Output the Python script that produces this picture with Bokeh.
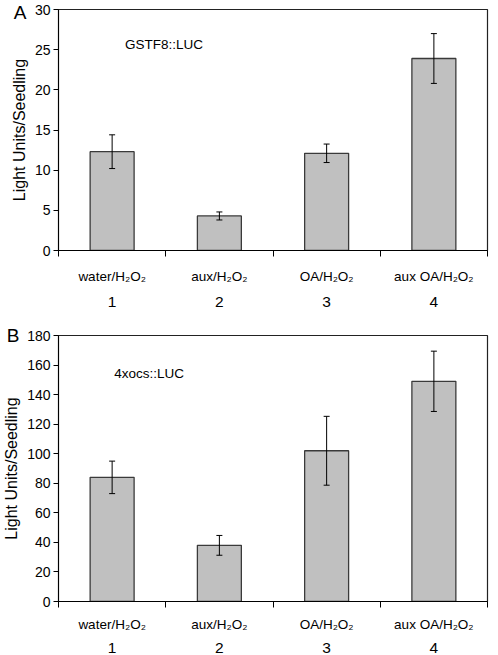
from bokeh.plotting import figure
from bokeh.models import (ColumnDataSource, FixedTicker, LinearAxis, Range1d,
                          Whisker, Label, TeeHead)
from bokeh.layouts import column
from bokeh.embed import file_html
from bokeh.resources import INLINE

# ---- data ----
conditions = ["water/H\u2082O\u2082", "aux/H\u2082O\u2082", "OA/H\u2082O\u2082", "aux OA/H\u2082O\u2082"]
condition_numbers = ["1", "2", "3", "4"]

gstf8_values = [12.3, 4.3, 12.1, 23.9]
gstf8_errors = [2.1, 0.5, 1.15, 3.1]
gstf8_yticks = [0, 5, 10, 15, 20, 25, 30]

ocs_values = [84.0, 38.0, 102.0, 149.0]
ocs_errors = [11.0, 6.7, 23.3, 20.4]
ocs_yticks = [0, 20, 40, 60, 80, 100, 120, 140, 160, 180]

FONT = "Liberation Sans"


def make_panel(values, errors, yticks, note, note_pos, letter, width, height,
               b_top, b_bottom, b_right, std1, std2):
    n = len(values)
    centers = [i + 0.5 for i in range(n)]
    src = ColumnDataSource(dict(
        x=centers, top=values,
        upper=[v + e for v, e in zip(values, errors)],
        lower=[v - e for v, e in zip(values, errors)],
    ))
    p = figure(width=width, height=height, x_range=Range1d(0, n),
               y_range=Range1d(yticks[0], yticks[-1]),
               output_backend="svg", toolbar_location=None,
               x_axis_location=None, y_axis_location=None,
               min_border_top=b_top, min_border_bottom=b_bottom,
               min_border_right=b_right, min_border_left=54)
    p.xgrid.visible = False
    p.ygrid.visible = False
    p.outline_line_color = "#222222"
    p.outline_line_width = 1.2
    p.background_fill_color = "white"
    p.border_fill_color = "white"

    p.vbar(x="x", top="top", bottom=0, width=0.41, source=src,
           fill_color="#c0c0c0", line_color="#3a3a3a", line_width=1.3)
    p.add_layout(Whisker(base="x", upper="upper", lower="lower", source=src,
                         level="annotation",
                         line_color="black", line_width=1,
                         upper_head=TeeHead(size=6, line_color="black", line_width=1),
                         lower_head=TeeHead(size=6, line_color="black", line_width=1)))

    # y axis
    yax = LinearAxis(ticker=FixedTicker(ticks=yticks), axis_label="Light Units/Seedling")
    yax.axis_label_text_font = FONT
    yax.axis_label_text_font_size = "16px"
    yax.axis_label_text_font_style = "normal"
    yax.axis_label_text_color = "black"
    yax.axis_label_standoff = 4
    yax.major_label_text_font = FONT
    yax.major_label_text_font_size = "14px"
    yax.major_label_text_color = "black"
    yax.major_label_standoff = 3
    yax.major_tick_out = 5
    yax.major_tick_in = 0
    yax.minor_tick_out = 0
    yax.minor_tick_in = 0
    yax.axis_line_color = "black"
    yax.major_tick_line_color = "black"
    p.add_layout(yax, "left")

    # panel letter, drawn as the only label of an invisible outer axis
    lax = LinearAxis(ticker=FixedTicker(ticks=[yticks[-1]], minor_ticks=[]))
    lax.major_label_overrides = {yticks[-1]: letter}
    lax.axis_line_color = None
    lax.major_tick_line_color = None
    lax.minor_tick_line_color = None
    lax.major_tick_out = 0
    lax.major_tick_in = 0
    lax.major_label_standoff = -19
    lax.major_label_text_font = FONT
    lax.major_label_text_font_size = "19px"
    lax.major_label_text_color = "black"
    p.add_layout(lax, "left")

    # x axis: boundary ticks (minor) + category names at centers
    xax = LinearAxis(ticker=FixedTicker(ticks=centers, minor_ticks=list(range(n + 1))))
    xax.major_label_overrides = {c: name for c, name in zip(centers, conditions)}
    xax.major_tick_out = 0
    xax.major_tick_in = 0
    xax.minor_tick_out = 6
    xax.minor_tick_in = 0
    xax.minor_tick_line_color = "black"
    xax.axis_line_color = "black"
    xax.major_label_text_font = FONT
    xax.major_label_text_font_size = "13.5px"
    xax.major_label_text_color = "black"
    xax.major_label_standoff = std1
    p.add_layout(xax, "below")

    nax = LinearAxis(ticker=FixedTicker(ticks=centers, minor_ticks=[]))
    nax.major_label_overrides = {c: s for c, s in zip(centers, condition_numbers)}
    nax.axis_line_color = None
    nax.major_tick_line_color = None
    nax.minor_tick_line_color = None
    nax.major_label_text_font = FONT
    nax.major_label_text_font_size = "15.5px"
    nax.major_label_text_color = "black"
    nax.major_label_standoff = std2
    p.add_layout(nax, "below")

    p.add_layout(Label(x=note_pos[0], y=note_pos[1], text=note,
                       text_font=FONT, text_font_size="13.5px",
                       text_baseline="middle", text_align="left", text_color="black"))
    return p


pa = make_panel(gstf8_values, gstf8_errors, gstf8_yticks, "GSTF8::LUC", (0.62, 25.7), "A",
                width=498, height=318, b_top=9, b_bottom=68, b_right=11, std1=12, std2=4)
pb = make_panel(ocs_values, ocs_errors, ocs_yticks, "4xocs::LUC", (0.52, 154.5), "B",
                width=498, height=337, b_top=17, b_bottom=52, b_right=3, std1=9, std2=2)

layout = column(pa, pb, spacing=0)
open("out.html", "w").write(file_html(layout, INLINE))
